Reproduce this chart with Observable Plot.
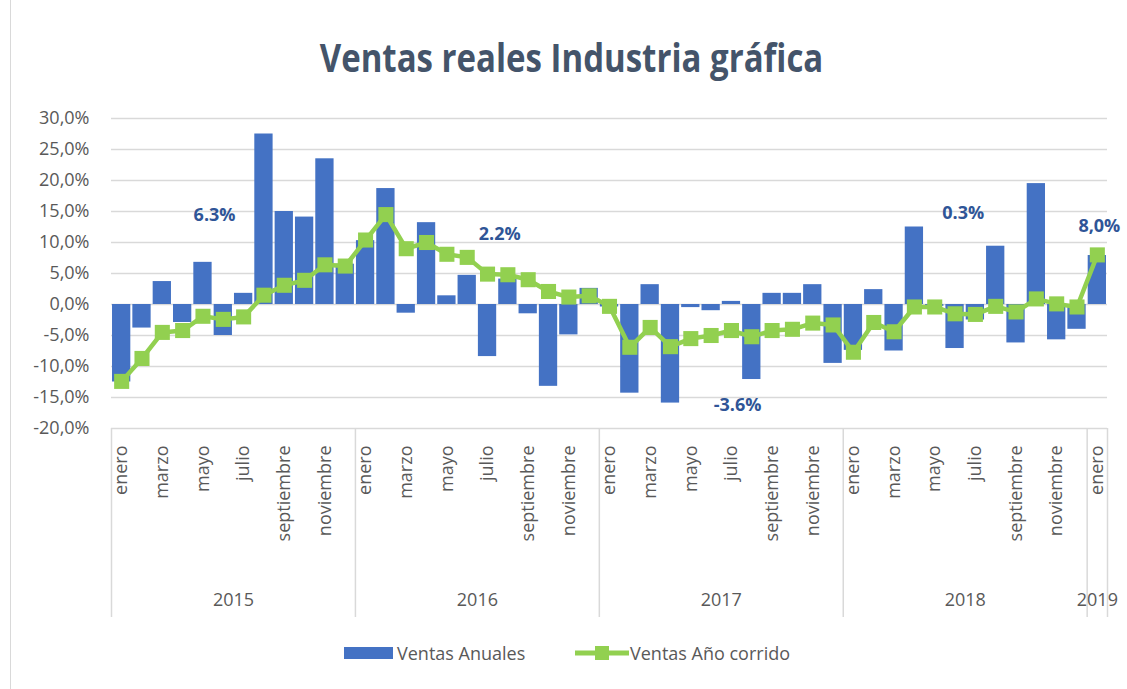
<!DOCTYPE html>
<html>
<head>
<meta charset="utf-8">
<script src="https://cdn.jsdelivr.net/npm/d3@7"></script>
<script src="https://cdn.jsdelivr.net/npm/@observablehq/plot@0.6"></script>
<style>
  html, body { margin: 0; padding: 0; background: #fff; }
  body { width: 1127px; height: 689px; position: relative; overflow: hidden; font-family: "Open Sans", sans-serif; }
  #frame { position: absolute; left: 10px; top: 0; width: 1px; height: 689px; background: #d9d9d9; }
  #title { position: absolute; left: 0; top: 0; width: 1127px; height: 100px; text-align: center; }
  #title span { display: inline-block; margin-top: 34px; margin-left: 16px; font-family: "Open Sans", sans-serif; font-weight: 700; font-size: 33px; color: #44546a; transform: scaleY(1.2); transform-origin: center; }
  #chart { position: absolute; left: 0; top: 100px; }
  #legend { position: absolute; left: 0; top: 638px; width: 1127px; height: 30px; font-family: "Open Sans", sans-serif; font-size: 18px; color: #595959; }
  .item { position: absolute; top: 0; display: flex; align-items: center; height: 30px; }
  g[aria-label="months"] text { letter-spacing: 1.5px; }
</style>
</head>
<body>
<div id="frame"></div>
<div id="title"><span>Ventas reales Industria gráfica</span></div>
<div id="chart"></div>
<div id="legend">
  <div class="item" style="left:344px"><svg width="50" height="14"><rect x="0" y="1" width="49" height="12" fill="#4472c4"/></svg><span style="margin-left:3px">Ventas Anuales</span></div>
  <div class="item" style="left:575px"><svg width="54" height="18"><line x1="0" y1="9" x2="54" y2="9" stroke="#92d050" stroke-width="5" stroke-linecap="round"/><rect x="20" y="2" width="14" height="14" fill="#92d050"/></svg><span style="margin-left:1px">Ventas Año corrido</span></div>
</div>
<script>
// Month names (one per bar), years and series values
const monthNames = ["enero","febrero","marzo","abril","mayo","junio","julio","agosto","septiembre","octubre","noviembre","diciembre"];
const years = ["2015","2016","2017","2018","2019"];
const yearStart = [0, 12, 24, 36, 48];
const yearEnd = [12, 24, 36, 48, 49];

const ventasAnuales = [
  -12.5, -3.8, 3.7, -2.9, 6.8, -5.0, 1.8, 27.5, 15.0, 14.1, 23.5, 6.5,
  10.3, 18.7, -1.4, 13.2, 1.4, 4.7, -8.4, 4.1, -1.5, -13.2, -4.9, 2.6,
  -0.4, -14.3, 3.2, -15.9, -0.5, -1.0, 0.5, -12.1, 1.8, 1.8, 3.2, -9.5,
  -7.4, 2.4, -7.5, 12.5, -0.3, -7.1, -2.5, 9.4, -6.2, 19.5, -5.7, -4.0,
  7.9
];
const ventasAnioCorrido = [
  -12.4, -8.7, -4.5, -4.2, -1.9, -2.4, -2.0, 1.5, 3.1, 3.9, 6.4, 6.2,
  10.4, 14.5, 9.0, 10.0, 8.1, 7.6, 4.9, 4.8, 4.0, 2.1, 1.2, 1.4,
  -0.3, -6.9, -3.7, -6.8, -5.5, -5.0, -4.2, -5.2, -4.2, -4.0, -3.0, -3.3,
  -7.7, -2.9, -4.4, -0.4, -0.4, -1.5, -1.6, -0.3, -1.2, 0.9, 0.1, -0.4,
  8.0
];
const yTicks = [-20, -15, -10, -5, 0, 5, 10, 15, 20, 25, 30];

// Annual labels: text, position in month units (x) and value units (y)
const annotText = ["6.3%", "2.2%", "-3.6%", "0.3%", "8,0%"];
const annotX = [5.07, 19.1, 30.8, 41.9, 48.6];
const annotY = [14.4, 11.4, -16.2, 14.7, 12.7];

const data = ventasAnuales.map((v, i) => ({
  i,
  month: monthNames[i % 12],
  anual: v,
  corrido: ventasAnioCorrido[i]
}));
const monthLabels = data.filter(d => d.i % 2 === 0);
const yearData = years.map((y, k) => ({ year: y, start: yearStart[k], end: yearEnd[k] }));
const bounds = [...yearStart, yearEnd[yearEnd.length - 1]];
const annots = annotText.map((t, k) => ({ t, x: annotX[k], y: annotY[k] }));

const fmt = d => d.toFixed(1).replace(".", ",") + "%";

const chart = Plot.plot({
  width: 1127,
  height: 525,
  marginTop: 18,
  marginBottom: 197,
  marginLeft: 111,
  marginRight: 20,
  style: { fontFamily: "Open Sans, sans-serif", fontSize: "18px", color: "#595959", background: "transparent", overflow: "visible" },
  x: { type: "linear", domain: [0, 49], axis: null },
  y: { domain: [-20, 30], axis: null },
  marks: [
    Plot.gridY(yTicks, { stroke: "#d9d9d9", strokeOpacity: 1, strokeWidth: 1.5 }),
    Plot.axisY(yTicks, { tickSize: 0, tickPadding: 22, tickFormat: fmt, fontSize: 18, fill: "#595959" }),
    Plot.ruleX(bounds, { x: d => d, y1: -20, y2: -20, insetBottom: -189, stroke: "#d9d9d9", strokeWidth: 1.5 }),
    Plot.rectY(data, { x1: d => d.i + 0.05, x2: d => d.i + 0.95, y1: 0, y2: "anual", fill: "#4472c4" }),
    Plot.line(data, { x: d => d.i + 0.5, y: "corrido", stroke: "#92d050", strokeWidth: 4.5, curve: "linear" }),
    Plot.dot(data, { x: d => d.i + 0.5, y: "corrido", symbol: "square", r: 8.5, fill: "#92d050", stroke: "none" }),
    Plot.text(monthLabels, { x: d => d.i + 0.5, y: -20, text: "month", rotate: -90, textAnchor: "end", dy: 17, fontSize: 18, fill: "#595959", ariaLabel: "months" }),
    Plot.text(yearData, { x: d => (d.start + d.end) / 2, y: -20, text: "year", dy: 172, fontSize: 18, fill: "#595959" }),
    Plot.text(annots, { x: "x", y: "y", text: "t", fontSize: 18, fontWeight: "bold", fill: "#2f5597" })
  ]
});
document.getElementById("chart").appendChild(chart);
</script>
</body>
</html>
